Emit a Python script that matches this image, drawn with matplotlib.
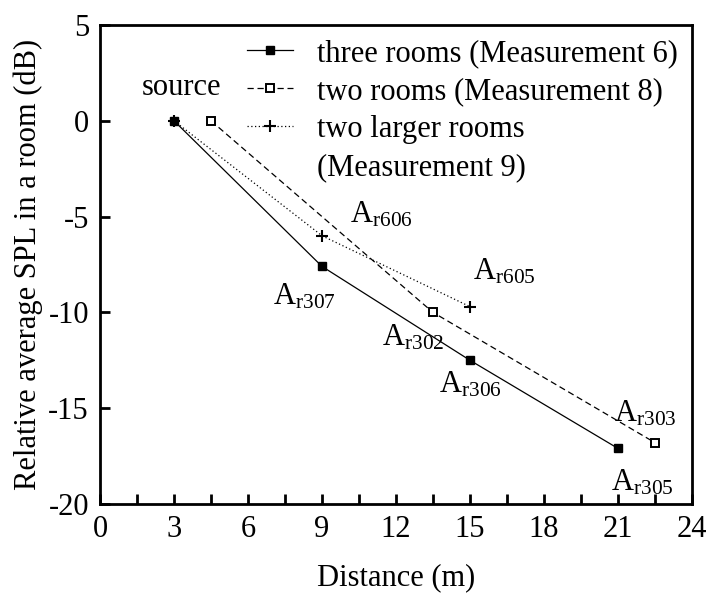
import matplotlib
matplotlib.use("Agg")
import matplotlib.pyplot as plt
from matplotlib.lines import Line2D
from matplotlib.ticker import MultipleLocator

plt.rcParams["font.family"] = ["Liberation Serif", "DejaVu Serif"]
plt.rcParams["mathtext.fontset"] = "custom"
plt.rcParams["mathtext.rm"] = "Liberation Serif"
plt.rcParams["mathtext.it"] = "Liberation Serif:italic"
plt.rcParams["axes.unicode_minus"] = False

# Measured relative SPL vs distance
three_x = [3, 9, 15, 21]
three_y = [0, -7.6, -12.5, -17.1]
two_x = [4.5, 13.5, 22.5]
two_y = [0, -10.0, -16.8]
larger_x = [3, 9, 15]
larger_y = [0, -6.0, -9.7]

series_labels = ["three rooms (Measurement 6)",
                 "two rooms (Measurement 8)",
                 "two larger rooms",
                 "(Measurement 9)"]

# Point annotations: (text, x, y)
notes = [
    ("source", 3.3, 1.75),
    (r"A$_{\mathrm{r606}}$", 11.4, -4.9),
    (r"A$_{\mathrm{r605}}$", 16.4, -7.9),
    (r"A$_{\mathrm{r307}}$", 8.3, -9.2),
    (r"A$_{\mathrm{r302}}$", 12.7, -11.3),
    (r"A$_{\mathrm{r306}}$", 15.0, -13.8),
    (r"A$_{\mathrm{r303}}$", 22.1, -15.3),
    (r"A$_{\mathrm{r305}}$", 22.0, -18.9),
]

fig = plt.figure(figsize=(7.08, 5.97), dpi=100)
ax = fig.add_axes([100 / 708, 1 - 504 / 597, 592 / 708, 479 / 597])

h1, = ax.plot(three_x, three_y, color="black", lw=0.9, ls="-",
              marker="s", ms=6, mfc="black", mec="black")
h2, = ax.plot(two_x, two_y, color="black", lw=0.9, ls=(0, (5, 3)),
              marker="s", ms=5.5, mfc="white", mec="black", mew=1.4)
h3, = ax.plot(larger_x, larger_y, color="black", lw=0.9, ls=(0, (1, 2)),
              marker="+", ms=8, mew=1.5)
blank = Line2D([], [], ls="none", marker="none")

ax.set_xlim(0, 24)
ax.set_ylim(-20, 5)
ax.xaxis.set_major_locator(MultipleLocator(3))
ax.xaxis.set_minor_locator(MultipleLocator(1.5))
ax.yaxis.set_major_locator(MultipleLocator(5))

ax.tick_params(axis="both", which="both", direction="in", top=False, right=False,
               length=7, width=2, labelsize=22, pad=8)
for sp in ax.spines.values():
    sp.set_linewidth(2)

ax.set_xlabel("Distance (m)", fontsize=22, labelpad=14)
ax.set_ylabel("Relative average SPL in a room (dB)", fontsize=22, labelpad=4)

for txt, x, y in notes:
    ax.text(x, y, txt, fontsize=22, ha="center", va="center")

ax.legend([h1, h2, h3, blank], series_labels, loc="upper right",
          bbox_to_anchor=(1.0, 1.0), frameon=False, fontsize=22,
          handlelength=1.5, handletextpad=0.8, labelspacing=0.3,
          borderaxespad=0.05)

fig.savefig("out.png", dpi=100)
